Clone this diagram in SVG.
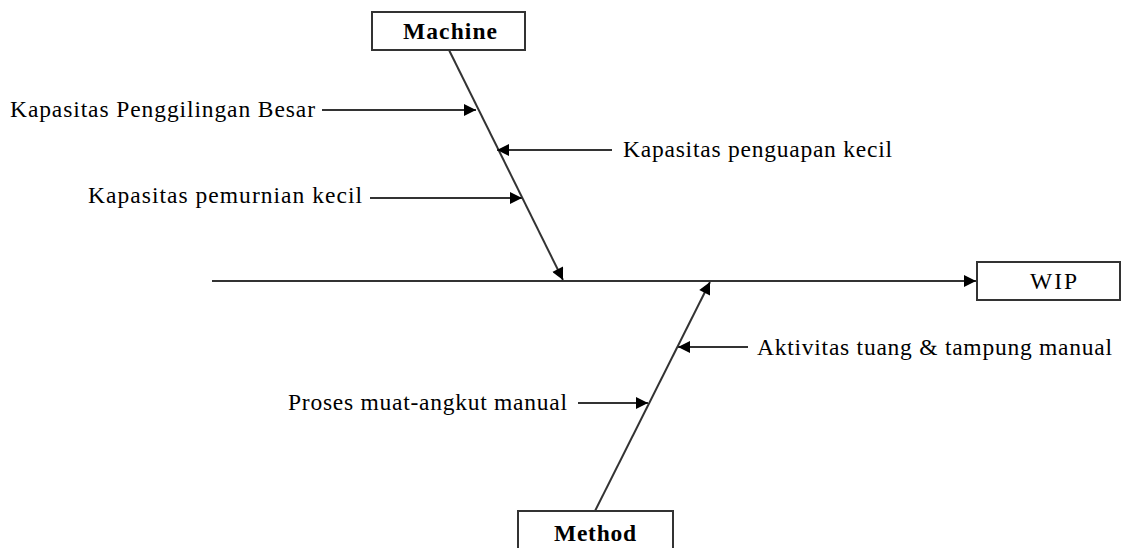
<svg xmlns="http://www.w3.org/2000/svg" width="1128" height="548" viewBox="0 0 1128 548">
<defs>
<marker id="ah" viewBox="0 0 10 10" refX="10" refY="5" markerWidth="14" markerHeight="12" markerUnits="userSpaceOnUse" orient="auto"><path d="M0,0 L10,5 L0,10 z" fill="#000"/></marker>
<style>
.box{fill:#fff;stroke:#333;stroke-width:2}
.ar{stroke:#333;stroke-width:2;fill:none;marker-end:url(#ah)}
text{font-family:'Liberation Serif','Times New Roman',serif;font-size:23.5px;fill:#000}
.b{font-weight:bold}
</style>
</defs>
<rect width="1128" height="548" fill="#fff"/>
<g id="connectors">
<line class="ar" x1="212" y1="281" x2="976" y2="281"/>
<line class="ar" x1="449" y1="50" x2="563" y2="280"/>
<line class="ar" x1="595" y1="511" x2="710" y2="282"/>
<line class="ar" x1="322" y1="110" x2="476" y2="110"/>
<line class="ar" x1="612" y1="150" x2="497" y2="150"/>
<line class="ar" x1="370" y1="198" x2="522" y2="198"/>
<line class="ar" x1="748" y1="347" x2="678" y2="347"/>
<line class="ar" x1="578" y1="403" x2="648" y2="403"/>
</g>
<g id="machine">
<rect class="box" x="372" y="12" width="153" height="38"/>
<text class="b" x="403" y="39" textLength="94" lengthAdjust="spacing">Machine</text>
</g>
<g id="wip">
<rect class="box" x="977" y="262" width="143" height="38"/>
<text x="1030" y="289" textLength="47" lengthAdjust="spacing">WIP</text>
</g>
<g id="method">
<rect class="box" x="518" y="511" width="155" height="45"/>
<text class="b" x="554" y="541" textLength="82" lengthAdjust="spacing">Method</text>
</g>
<g id="cause1"><text x="10" y="117" textLength="305" lengthAdjust="spacing">Kapasitas Penggilingan Besar</text></g>
<g id="cause2"><text x="623" y="157" textLength="269" lengthAdjust="spacing">Kapasitas penguapan kecil</text></g>
<g id="cause3"><text x="88" y="203" textLength="274" lengthAdjust="spacing">Kapasitas pemurnian kecil</text></g>
<g id="cause4"><text x="757" y="355" textLength="355" lengthAdjust="spacing">Aktivitas tuang &amp; tampung manual</text></g>
<g id="cause5"><text x="288" y="410" textLength="279" lengthAdjust="spacing">Proses muat-angkut manual</text></g>
</svg>
